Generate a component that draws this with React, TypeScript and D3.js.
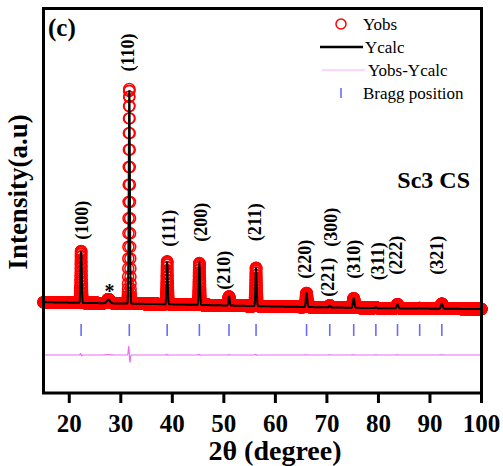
import React from 'react';
import * as d3 from 'd3';

const W = 503, H = 466;
const FONT = "'Liberation Serif', 'Times New Roman', Times, serif";

// Peak model parameters (2θ, heights above background, widths)
const peakPos = [22.3, 27.6, 31.65, 39.0, 45.25, 51.0, 56.25, 66.05, 70.55, 75.2, 79.5, 83.7, 88.0, 92.3];
const obsHeight = [2430, 190, 10050, 2010, 1960, 420, 1800, 655, 95, 445, 45, 190, 20, 235];
const calcHeight = [2410, 170, 10000, 1995, 1945, 412, 1785, 648, 90, 438, 44, 186, 20, 231];
const peakFwhm = [0.26, 0.7, 0.26, 0.26, 0.27, 0.3, 0.27, 0.32, 0.3, 0.34, 0.3, 0.36, 0.3, 0.4];
const peakShift = [0.004, 0.0, 0.0065, 0.002, 0.002, 0.001, 0.002, 0.002, 0.0, 0.002, 0.0, 0.001, 0.0, 0.001];
const bgAngle = [15, 40, 60, 80, 100];
const bgLevel = [4250, 4150, 4050, 3970, 3930];

const braggPos = [22.3, 31.65, 39.0, 45.25, 51.0, 56.25, 66.05, 70.55, 75.2, 79.5, 83.7, 88.0, 92.3];
const braggLevel = 2950;
const diffOffset = 1780;

const hklLabels = ['(100)', '(110)', '(111)', '(200)', '(210)', '(211)', '(220)', '(221)', '(300)', '(310)', '(311)', '(222)', '(321)'];
const labelAngle = [22.47, 31.4, 39.35, 45.56, 50.03, 56.05, 65.75, 70.2, 70.8, 75.26, 79.9, 83.4, 91.4];
const labelLevel = [8088, 15943, 7714, 7995, 5751, 7995, 6265, 5423, 7761, 6265, 6171, 6452, 6452];

const xTicks = [20, 30, 40, 50, 60, 70, 80, 90, 100];
const xStart = 15, xEnd = 100, step = 0.015;

const legendItems = ['Yobs', 'Ycalc', 'Yobs-Ycalc', 'Bragg position'];

export default function App() {
  const left = 43.5, right = 481.5, top = 8.5, bottom = 393;
  const x = d3.scaleLinear().domain([xStart, xEnd]).range([left, right]);
  const y = d3.scaleLinear().domain([0, 18000]).range([bottom, top]);
  const bg = d3.scaleLinear().domain(bgAngle).range(bgLevel);

  const n = Math.round((xEnd - xStart) / step);
  const angles = d3.range(n + 1).map((i) => xStart + i * step);
  const gauss = (t: number, p: number, f: number) => {
    const s = f / 2.3548;
    return Math.exp(-0.5 * ((t - p) / s) ** 2);
  };
  const calc = angles.map((t) => bg(t) + peakPos.reduce((a, p, i) => a + calcHeight[i] * gauss(t, p + peakShift[i], peakFwhm[i]), 0));
  const obs = angles.map((t) => bg(t) + peakPos.reduce((a, p, i) => a + obsHeight[i] * gauss(t, p, peakFwhm[i]), 0));

  const line = d3.line<number>().x((_, i) => x(angles[i])).y((d) => y(d));
  const calcPath = line(calc) || '';
  const diffPath = line(obs.map((o, i) => diffOffset + o - calc[i])) || '';

  const yb = y(braggLevel);

  return (
    <svg width={W} height={H} style={{ position: 'absolute', left: 0, top: 0, background: '#fff', fontFamily: FONT }}>
      <rect width={W} height={H} fill="#fff" />
      <g fill="none" stroke="#ff0000" strokeWidth={1.5}>
        {obs.map((o, i) => (
          <circle key={i} cx={x(angles[i])} cy={y(o)} r={5.5} />
        ))}
      </g>
      <path d={calcPath} fill="none" stroke="#000" strokeWidth={2} />
      <path d={diffPath} fill="none" stroke="#ee6cf5" strokeWidth={1.2} />
      {braggPos.map((p, i) => (
        <line key={i} x1={x(p)} x2={x(p)} y1={yb - 6} y2={yb + 6} stroke="#6a6aff" strokeWidth={1.6} />
      ))}
      {hklLabels.map((l, i) => (
        <text key={l} transform={`translate(${x(labelAngle[i])},${y(labelLevel[i])}) rotate(-90)`} textAnchor="middle" dominantBaseline="central" fontSize={18} fontWeight="bold" style={{ fontFamily: FONT }}>{l}</text>
      ))}
      <text x={x(27.8)} y={y(4930) + 10} textAnchor="middle" fontSize={20} fontWeight="bold" style={{ fontFamily: FONT }}>*</text>
      <rect x={left} y={top} width={right - left} height={bottom - top} fill="none" stroke="#000" strokeWidth={3} />
      {xTicks.map((t) => (
        <g key={t}>
          <line x1={x(t)} x2={x(t)} y1={bottom} y2={bottom + 10} stroke="#000" strokeWidth={3} />
          <text x={x(t)} y={432} textAnchor="middle" fontSize={25} fontWeight="bold" style={{ fontFamily: FONT }}>{t}</text>
        </g>
      ))}
      <text x={275} y={460} textAnchor="middle" fontSize={28} fontWeight="bold" style={{ fontFamily: FONT }}>2θ (degree)</text>
      <text transform="translate(27,192) rotate(-90)" textAnchor="middle" fontSize={27} fontWeight="bold" style={{ fontFamily: FONT }}>Intensity(a.u)</text>
      <text x={48} y={36} fontSize={25} fontWeight="bold" style={{ fontFamily: FONT }}>(c)</text>
      <text x={470} y={188} textAnchor="end" fontSize={24} fontWeight="bold" style={{ fontFamily: FONT }}>Sc3 CS</text>
      <g fontSize={17} style={{ fontFamily: FONT }}>
        <circle cx={341} cy={24} r={5} fill="none" stroke="#ff0000" strokeWidth={1.5} />
        <text x={363} y={30}>{legendItems[0]}</text>
        <line x1={320} x2={363} y1={47} y2={47} stroke="#000" strokeWidth={2.5} />
        <text x={365} y={53}>{legendItems[1]}</text>
        <line x1={322} x2={365} y1={70} y2={70} stroke="#ffaaff" strokeWidth={1} />
        <text x={368} y={76}>{legendItems[2]}</text>
        <line x1={341} x2={341} y1={88} y2={98} stroke="#6a6aff" strokeWidth={1.6} />
        <text x={363} y={99}>{legendItems[3]}</text>
      </g>
    </svg>
  );
}
